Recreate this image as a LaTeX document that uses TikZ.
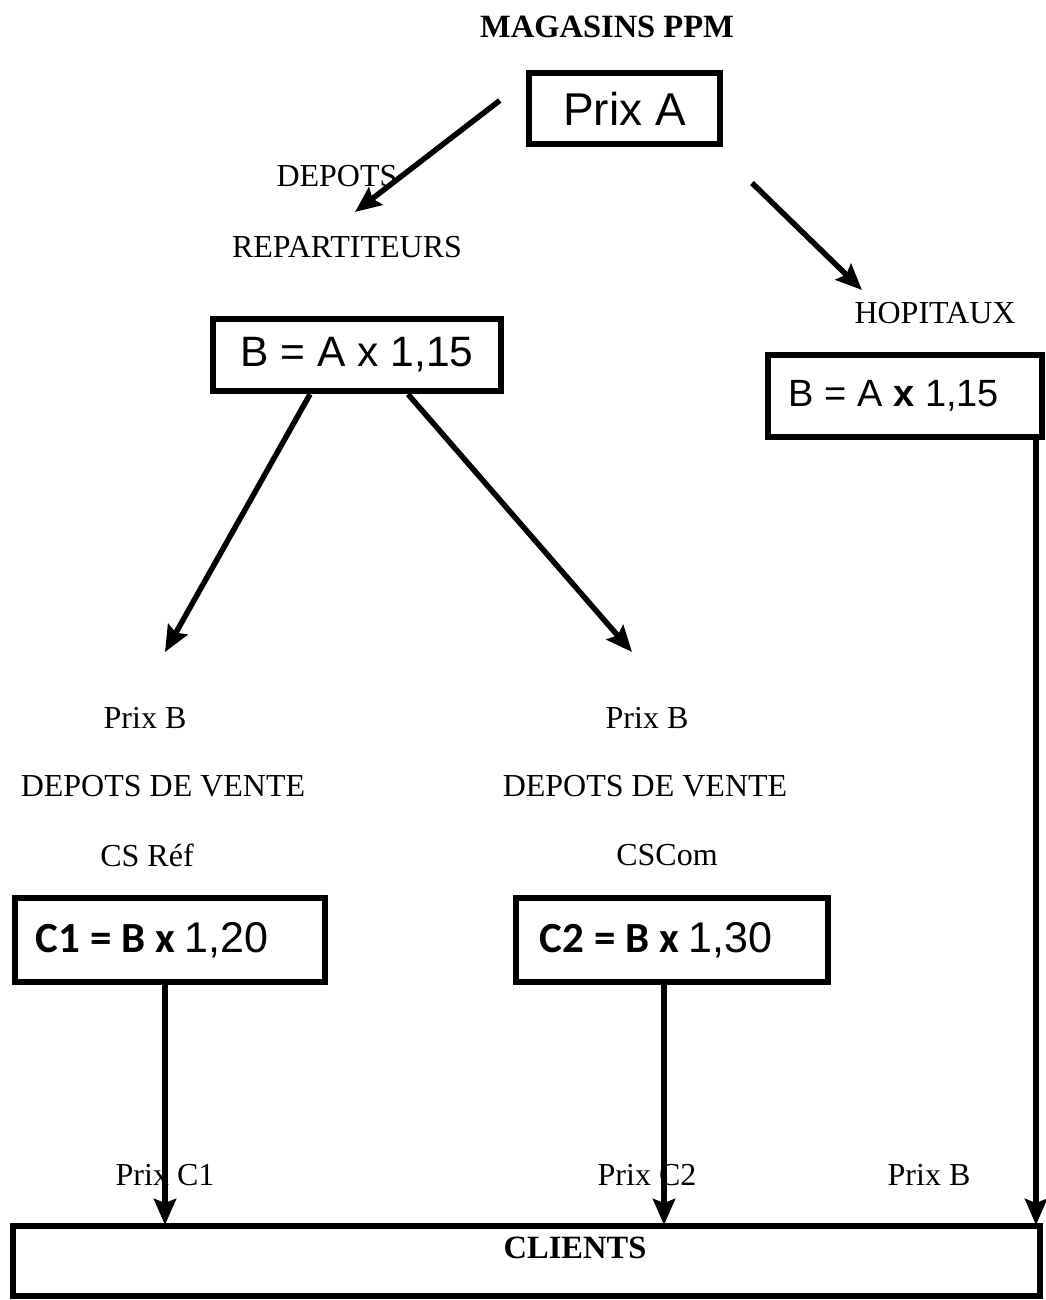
\documentclass[tikz,border=0pt]{standalone}
\usepackage{fontspec}
\setmainfont{Liberation Serif}
\newfontfamily\arialf{Liberation Sans}
\newfontfamily\calib{Carlito}
\usetikzlibrary{arrows.meta,calc}
\begin{document}
\begin{tikzpicture}[x=1pt,y=-1pt,
  box/.style={draw, line width=6.5pt, inner sep=0pt},
  lbl/.style={font=\fontsize{32}{38}\selectfont, inner sep=0pt},
  arr/.style={line width=5.5pt, -{Stealth[length=26pt,width=22pt,inset=4pt]}}]
\useasboundingbox (0,0) rectangle (1045,1300);

% title
\node[lbl, font=\fontsize{32.5}{38}\selectfont\bfseries] (title) at (607,27) {MAGASINS PPM};

% boxes
\node[box, minimum width=191pt, minimum height=71pt,
      font=\arialf\fontsize{46}{50}\selectfont] (prixA) at (624.5,108.5) {Prix A};
\node[box, minimum width=288pt, minimum height=72pt,
      font=\arialf\fontsize{42.5}{48}\selectfont] (bl) at (357,355) {B = A x 1,15};
\node[box, minimum width=274pt, minimum height=82pt,
      font=\arialf\fontsize{38}{44}\selectfont] (br) at (905,396) {B = A \textbf{x} 1,15\rule{22pt}{0pt}};
\node[box, minimum width=310pt, minimum height=84pt] (c1) at (170,940)
  {{\calib\fontsize{43}{48}\selectfont\bfseries C1 = B x }{\arialf\fontsize{43}{48}\selectfont 1,20}\rule{36pt}{0pt}};
\node[box, minimum width=312pt, minimum height=84pt] (c2) at (672,940)
  {{\calib\fontsize{43}{48}\selectfont\bfseries C2 = B x }{\arialf\fontsize{43}{48}\selectfont 1,30}\rule{32pt}{0pt}};
\node[box, line width=6pt, minimum width=1027pt, minimum height=70pt] (clients) at (526.5,1261) {};
\node[lbl, font=\fontsize{32.5}{38}\selectfont\bfseries] (clientslbl) at (575,1248) {CLIENTS};

% labels
\node[lbl] (depots) at (337,176) {DEPOTS};
\node[lbl] (repart) at (347,247) {REPARTITEURS};
\node[lbl] (hop) at (935,313) {HOPITAUX};
\node[lbl] (pb1) at (145,718) {Prix B};
\node[lbl] (dv1) at (163,786) {DEPOTS DE VENTE};
\node[lbl] (csref) at (147,855) {CS Réf};
\node[lbl] (pb2) at (647,718) {Prix B};
\node[lbl] (dv2) at (645,786) {DEPOTS DE VENTE};
\node[lbl] (cscom) at (667,855) {CSCom};
\node[lbl] (pc1) at (165,1175) {Prix C1};
\node[lbl] (pc2) at (647,1175) {Prix C2};
\node[lbl] (pb3) at (929,1175) {Prix B};

% connector end points
\coordinate (a1s) at ($(prixA.west)+(-26,-8)$);
\coordinate (a1e) at (355,212);
\coordinate (a2s) at (752,183);
\coordinate (a2e) at (862,290);
\coordinate (a3s) at ($(bl.south)+(-47,0)$);
\coordinate (a3e) at (165,652);
\coordinate (a4s) at ($(bl.south)+(51,0)$);
\coordinate (a4e) at (632,652);
\coordinate (a5s) at ($(c1.south -| 165,0)$);
\coordinate (a5e) at ($(clients.north -| 165,0)+(0,2)$);
\coordinate (a6s) at ($(c2.south -| 664,0)$);
\coordinate (a6e) at ($(clients.north -| 664,0)+(0,2)$);
\coordinate (a7s) at ($(br.south -| 1036,0)$);
\coordinate (a7e) at ($(clients.north -| 1036,0)+(0,2)$);

% connectors
\draw[arr] (a1s) -- (a1e);
\draw[arr] (a2s) -- (a2e);
\draw[arr] (a3s) -- (a3e);
\draw[arr] (a4s) -- (a4e);
\draw[arr] (a5s) -- (a5e);
\draw[arr] (a6s) -- (a6e);
\draw[arr] (a7s) -- (a7e);
\end{tikzpicture}
\end{document}
